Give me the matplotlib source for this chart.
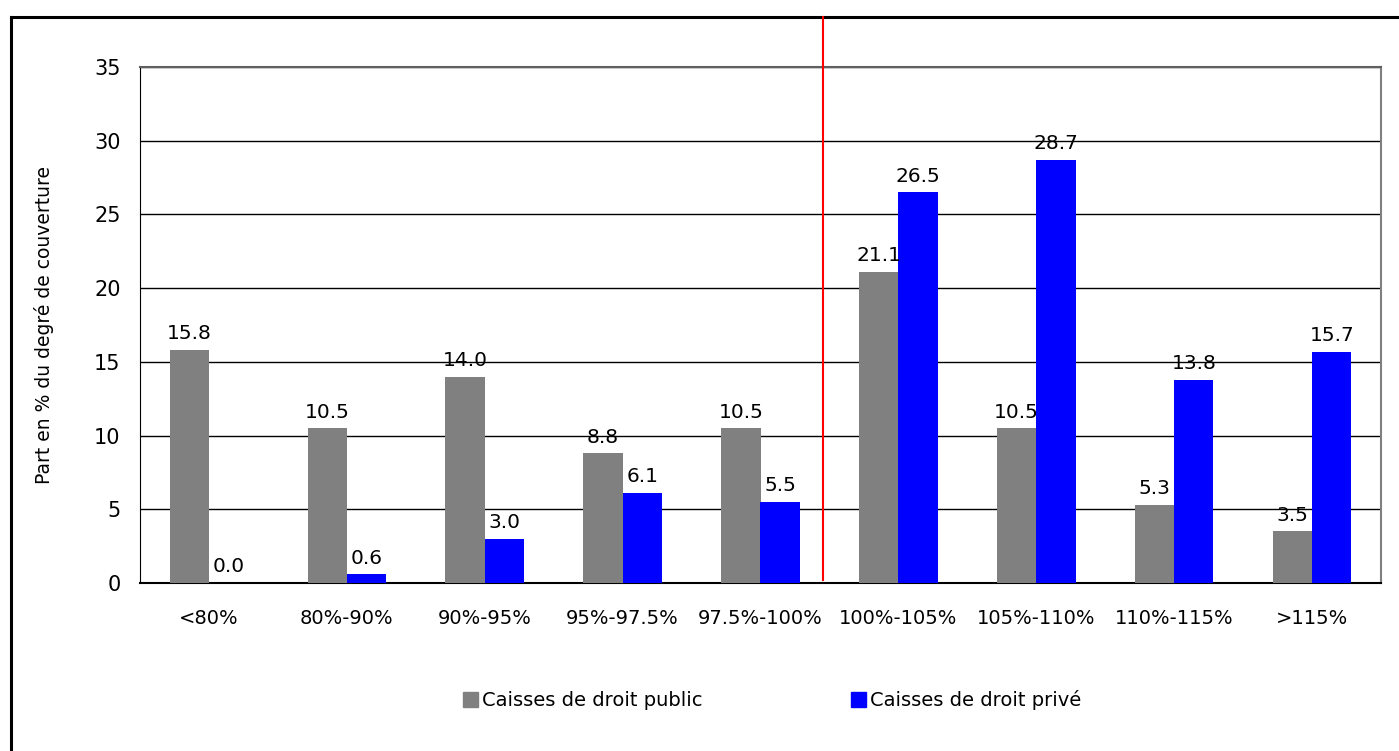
import numpy as np
import matplotlib
matplotlib.use("Agg")
import matplotlib.pyplot as plt
from matplotlib.lines import Line2D
from matplotlib.patches import Patch
import matplotlib.transforms as mtransforms

# Données
categories = ['<80%', '80%-90%', '90%-95%', '95%-97.5%', '97.5%-100%',
              '100%-105%', '105%-110%', '110%-115%', '>115%']
droit_public = [15.8, 10.5, 14.0, 8.8, 10.5, 21.1, 10.5, 5.3, 3.5]
droit_prive = [0.0, 0.6, 3.0, 6.1, 5.5, 26.5, 28.7, 13.8, 15.7]
y_ticks = [0, 5, 10, 15, 20, 25, 30, 35]

plt.rcParams['font.family'] = ['DejaVu Sans']

fig = plt.figure(figsize=(13.99, 7.51), dpi=100)
ax = fig.add_axes([140 / 1399, 1 - 583 / 751, (1381 - 140) / 1399, (583 - 67) / 751])

x = np.arange(len(categories))
w = 0.285
ax.bar(x - w / 2, droit_public, w, color='#808080', label='Caisses de droit public', zorder=3)
ax.bar(x + w / 2, droit_prive, w, color='#0000FF', label='Caisses de droit privé', zorder=3)

# étiquettes de valeur
for i in range(len(categories)):
    ax.text(x[i] - w / 2, droit_public[i] + 0.45, f'{droit_public[i]:.1f}',
            ha='center', va='bottom', fontsize=14.5)
    ax.text(x[i] + w / 2, droit_prive[i] + 0.45, f'{droit_prive[i]:.1f}',
            ha='center', va='bottom', fontsize=14.5)

ax.set_xlim(-0.5, len(categories) - 0.5)
ax.set_ylim(0, 35)
ax.set_yticks(y_ticks)
ax.set_xticks(x)
ax.set_xticklabels(categories, fontsize=14)
ax.tick_params(axis='y', length=0, pad=14, labelsize=15)
ax.tick_params(axis='x', length=0, pad=19)
ax.yaxis.grid(True, color='black', linewidth=1.0, zorder=0)
ax.set_axisbelow(True)
ax.set_ylabel('Part en % du degré de couverture', fontsize=13.5, labelpad=29)

ax.spines['left'].set_color('black')
ax.spines['bottom'].set_color('black')
ax.spines['bottom'].set_linewidth(1.5)
ax.spines['top'].set_color('#606060')
ax.spines['right'].set_color('#808080')
ax.spines['top'].set_linewidth(1.5)
ax.spines['right'].set_linewidth(1.5)

# ligne rouge de séparation (100 %)
trans = mtransforms.blended_transform_factory(ax.transData, fig.transFigure)
fig.add_artist(Line2D([4.45, 4.45], [1 - 17 / 751, 1 - 580 / 751], transform=trans,
                      color='#FF0000', linewidth=1.5, zorder=5))

# cadre extérieur
fig.add_artist(Line2D([11 / 1399, 11 / 1399], [0, 1 - 17 / 751], transform=fig.transFigure,
                      color='black', linewidth=2.2))
fig.add_artist(Line2D([11 / 1399, 1], [1 - 17 / 751, 1 - 17 / 751], transform=fig.transFigure,
                      color='black', linewidth=2.2))

handles = [Patch(color='#808080'), Patch(color='#0000FF')]
fig.legend(handles, ['Caisses de droit public', 'Caisses de droit privé'],
           loc='center', bbox_to_anchor=(772 / 1399, 1 - 700 / 751), ncol=2,
           frameon=False, fontsize=14, handlelength=0.8, handleheight=0.8,
           handletextpad=0.2, columnspacing=7.6)

fig.savefig('out.png', dpi=100)
